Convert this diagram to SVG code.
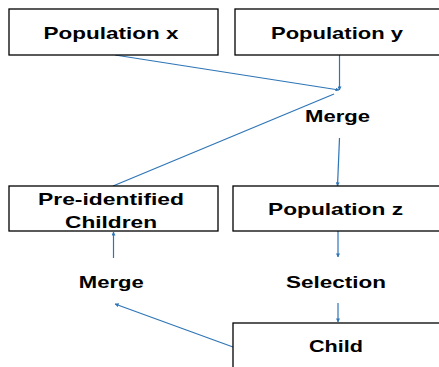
<svg xmlns="http://www.w3.org/2000/svg" width="439" height="367" viewBox="0 0 439 367">
<defs>
<style>
.box{fill:#fff;stroke:#000;stroke-width:1.3}
.lbl{font-family:"Liberation Sans",Arial,sans-serif;font-weight:bold;font-size:17px;fill:#000;text-anchor:middle}
.con{stroke:#2E75B6;stroke-width:1.2;fill:none}
</style>
<marker id="ah" viewBox="0 0 10 10" refX="9" refY="5" markerWidth="4" markerHeight="4" orient="auto" markerUnits="userSpaceOnUse">
<path d="M0,0 L10,5 L0,10 z" fill="#2E75B6"/>
</marker>
</defs>
<rect width="439" height="367" fill="#fff"/>
<g id="connectors">
<line class="con" x1="115" y1="55" x2="339" y2="90" marker-end="url(#ah)"/>
<line class="con" x1="339.5" y1="55" x2="339.5" y2="90" marker-end="url(#ah)"/>
<line class="con" x1="113" y1="186" x2="334" y2="94"/>
<line class="con" x1="339.5" y1="138" x2="337.5" y2="186" marker-end="url(#ah)"/>
<line class="con" x1="338" y1="231" x2="338" y2="257" marker-end="url(#ah)"/>
<line class="con" x1="338" y1="303" x2="338" y2="322" marker-end="url(#ah)"/>
<line class="con" x1="233" y1="347" x2="115" y2="304" marker-end="url(#ah)"/>
<line class="con" x1="113.5" y1="258" x2="113.5" y2="232" marker-end="url(#ah)"/>
</g>
<g id="pop-x">
<rect class="box" x="9" y="9" width="209" height="46"/>
<text class="lbl" x="111" y="39" textLength="135" lengthAdjust="spacingAndGlyphs">Population x</text>
</g>
<g id="pop-y">
<rect class="box" x="235" y="9" width="215" height="46"/>
<text class="lbl" x="337" y="39" textLength="132" lengthAdjust="spacingAndGlyphs">Population y</text>
</g>
<g id="merge-top">
<text class="lbl" x="337.5" y="121.5" textLength="65" lengthAdjust="spacingAndGlyphs">Merge</text>
</g>
<g id="pre-identified">
<rect class="box" x="9" y="186" width="209" height="45"/>
<text class="lbl" x="111" y="205" textLength="146" lengthAdjust="spacingAndGlyphs">Pre-identified</text>
<text class="lbl" x="111" y="228" textLength="92" lengthAdjust="spacingAndGlyphs">Children</text>
</g>
<g id="pop-z">
<rect class="box" x="233" y="186" width="215" height="45"/>
<text class="lbl" x="335.5" y="215" textLength="135" lengthAdjust="spacingAndGlyphs">Population z</text>
</g>
<g id="merge-bottom">
<text class="lbl" x="111.3" y="288" textLength="65" lengthAdjust="spacingAndGlyphs">Merge</text>
</g>
<g id="selection">
<text class="lbl" x="336" y="288" textLength="100" lengthAdjust="spacingAndGlyphs">Selection</text>
</g>
<g id="child">
<rect class="box" x="233" y="323" width="215" height="60"/>
<text class="lbl" x="336" y="351.5" textLength="54" lengthAdjust="spacingAndGlyphs">Child</text>
</g>
</svg>
